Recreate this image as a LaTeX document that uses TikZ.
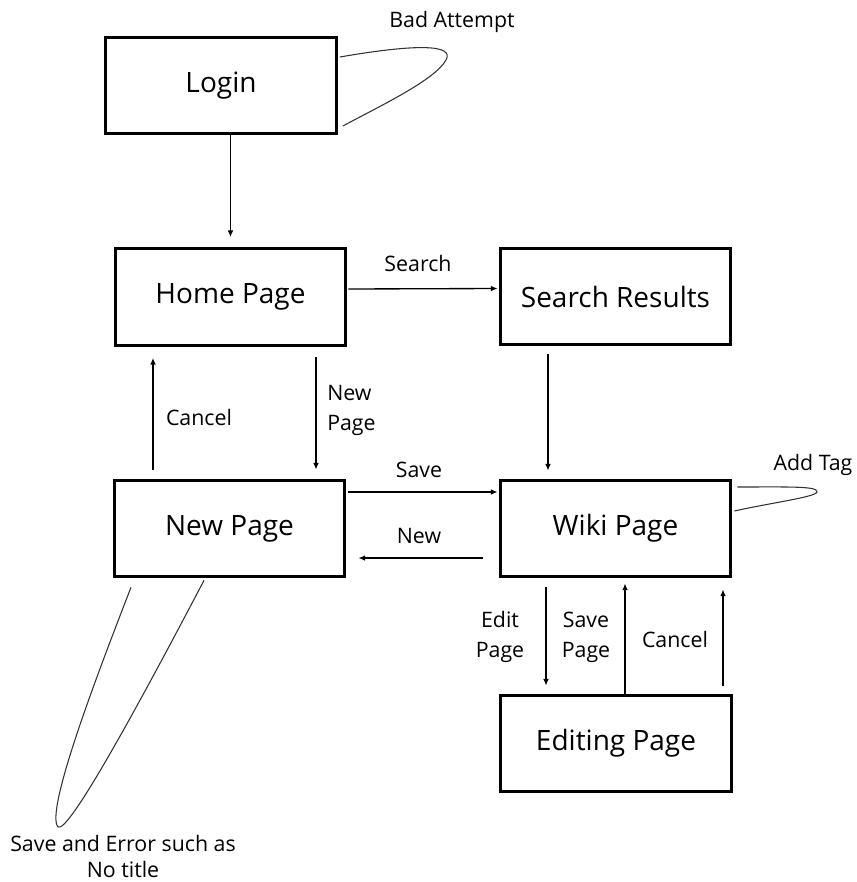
\documentclass[tikz,border=0pt]{standalone}
\usepackage{fontspec}
\setmainfont{Open Sans}
\usetikzlibrary{arrows.meta,calc}
\tikzset{
  box/.style={draw=black, line width=2.3pt, minimum width=173pt, minimum height=72.5pt, inner sep=0pt, font=\fontsize{21}{25}\selectfont},
  lbl/.style={font=\fontsize{16}{22.5}\selectfont, inner sep=0pt},
  arr/.style={draw=black, line width=1pt, -{Latex[length=5pt,width=4.2pt]}},
  selfloop/.style={draw=black!80, line width=0.8pt}
}
\begin{document}
\begin{tikzpicture}[x=0.75pt,y=-0.75pt]
\useasboundingbox (0,0) rectangle (857,882);
% boxes
\node[box] (login) at (221,85.5) {Login};
\node[box] (home) at (230.5,297) {Home Page};
\node[box] (search) at (615.5,296.5) {Search Results};
\node[box] (newp) at (229.5,528.5) {New Page};
\node[box] (wiki) at (615.5,528.5) {Wiki Page};
\node[box] (edit) at (616,743.5) {Editing Page};
% connectors
\draw[arr, shorten >=7.5pt] (login.south -| home.north) -- (home.north);
\draw[arr] ($(home.east)+(1,-8)$) -- ($(search.west)+(-1,-8)$);
\draw[arr] ($(search.south)+(-67.5,8)$) -- ($(wiki.north)+(-67.5,-8)$);
\draw[arr] ($(home.south)+(85.5,10)$) -- ($(newp.north)+(86.5,-9)$);
\draw[arr] ($(newp.north)+(-76.5,-9)$) -- ($(home.south)+(-77.5,11)$);
\draw[arr] ($(newp.east)+(2,-36.5)$) -- ($(wiki.west)+(-1,-36.5)$);
\draw[arr] ($(wiki.west)+(-16,29.5)$) -- ($(newp.east)+(12,29.5)$);
\draw[arr] ($(wiki.south)+(-69.5,9)$) -- ($(edit.north)+(-70,-8)$);
\draw[arr] ($(edit.north)+(9,0)$) -- ($(wiki.south)+(9.5,5)$);
\draw[arr] ($(edit.north)+(107,-8)$) -- ($(wiki.south)+(107.5,11)$);
% self loops
\coordinate (la) at ($(login.east)+(2,-28.5)$);
\coordinate (lb) at ($(login.east)+(5,40.5)$);
\draw[selfloop] (la) .. controls (415,44) and (455,44) .. (446,60) .. controls (435,80) and (380,106) .. (lb);
\coordinate (wa) at ($(wiki.east)+(5,-41.5)$);
\coordinate (wb) at ($(wiki.east)+(2,-17.5)$);
\draw[selfloop] (wa) .. controls (790,487) and (818,486) .. (817,492) .. controls (816,497) and (770,503) .. (wb);
\coordinate (na) at ($(newp.south)+(-98.5,9)$);
\coordinate (nb) at ($(newp.south)+(-25.5,2)$);
\draw[selfloop] (na) .. controls (95,680) and (45,812) .. (58,827) .. controls (68,834) and (135,712) .. (nb);
% labels
\node[lbl] (tbad) at (452,22) {Bad Attempt};
\node[lbl] (tsearch) at (418,263) {Search};
\node[lbl] (tcancel1) at (199,417) {Cancel};
\node[lbl, align=left, anchor=west] (tnewpage) at (327,410) {New\\Page};
\node[lbl] (tsave) at (419,470) {Save};
\node[lbl] (tnew) at (419,536) {New};
\node[lbl] (taddtag) at (813,465) {Add Tag};
\node[lbl, align=center] (teditpage) at (500,637) {Edit\\Page};
\node[lbl, align=center] (tsavepage) at (586,637) {Save\\Page};
\node[lbl] (tcancel2) at (675,639) {Cancel};
\node[lbl, align=center, font=\fontsize{16}{20}\selectfont] (terr) at (123,856.5) {Save and Error such as\\No title};
\end{tikzpicture}
\end{document}
